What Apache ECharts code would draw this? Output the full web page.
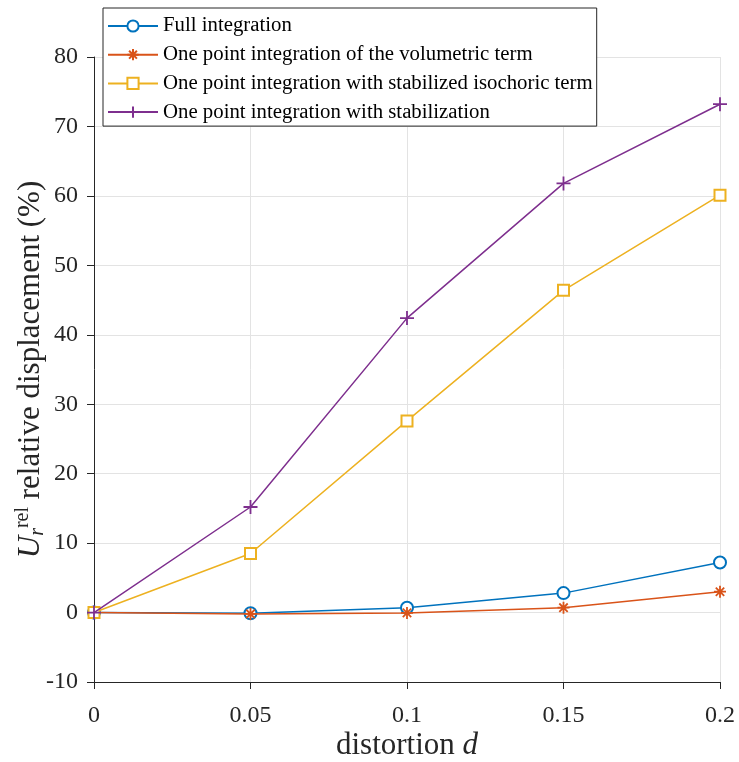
<!DOCTYPE html>
<html>
<head>
<meta charset="utf-8">
<script src="https://cdn.jsdelivr.net/npm/echarts@6/dist/echarts.min.js"></script>
<style>html,body{margin:0;padding:0;background:#fff}#c{width:739px;height:762px}</style>
</head>
<body>
<div id="c"></div>
<script>
var distortion = [0, 0.05, 0.1, 0.15, 0.2];
var fullIntegration = [0, -0.1, 0.7, 2.8, 7.2];
var onePointVolumetric = [0, -0.2, -0.05, 0.7, 3.0];
var onePointStabIsochoric = [0, 8.5, 27.6, 46.4, 60.1];
var onePointStabilization = [0, 15.2, 42.4, 61.8, 73.2];
var seriesNames = [
  'Full integration',
  'One point integration of the volumetric term',
  'One point integration with stabilized isochoric term',
  'One point integration with stabilization'
];
var yTicks = {min: -10, max: 80, interval: 10};
var xTicks = {min: 0, max: 0.2, interval: 0.05};

var FONT = '"Liberation Serif", "Times New Roman", serif';
var colors = ['#0072BD', '#D95319', '#EDB120', '#7E2F8E'];
var asterisk = 'path://M5,0L5,10M0,5L10,5M1.5,1.5L8.5,8.5M8.5,1.5L1.5,8.5';
var plus = 'path://M5,0L5,10M0,5L10,5';

function pairs(arr) { return distortion.map(function (x, i) { return [x, arr[i]]; }); }

var seriesData = [fullIntegration, onePointVolumetric, onePointStabIsochoric, onePointStabilization];
var symbols = ['emptyCircle', asterisk, 'emptyRect', plus];
var symbolSizes = [12, 12, 11, 14];

var series = seriesData.map(function (d, i) {
  var isPath = i === 1 || i === 3;
  return {
    name: seriesNames[i],
    type: 'line',
    data: pairs(d),
    symbol: symbols[i],
    symbolSize: symbolSizes[i],
    showAllSymbol: true,
    lineStyle: {color: colors[i], width: 1.5},
    itemStyle: isPath ? {color: colors[i], borderColor: colors[i], borderWidth: 1.8}
                      : {color: colors[i], borderColor: colors[i], borderWidth: 1.6},
    emphasis: {disabled: true},
    z: 2 + i
  };
});

var chart = echarts.init(document.getElementById('c'), null, {renderer: 'canvas'});
chart.setOption({
  animation: false,
  backgroundColor: '#fff',
  color: colors,
  grid: {left: 94, right: 19, top: 57, bottom: 80, containLabel: false, outerBoundsMode: 'none'},
  legend: {
    left: 103, top: 8, orient: 'vertical',
    backgroundColor: '#fff', borderColor: '#262626', borderWidth: 1,
    padding: [7, 4, 3, 4],
    itemWidth: 50, itemHeight: 14, itemGap: 6.7,
    textStyle: {fontFamily: FONT, fontSize: 20.8, color: '#000', lineHeight: 22},
    data: seriesNames
  },
  xAxis: {
    type: 'value', min: xTicks.min, max: xTicks.max, interval: xTicks.interval,
    name: '{n|distortion }{i|d}', nameLocation: 'middle', nameGap: 48, nameMoveOverlap: false,
    nameTextStyle: {rich: {
      n: {fontFamily: FONT, fontSize: 31, color: '#262626'},
      i: {fontFamily: FONT, fontSize: 31, fontStyle: 'italic', color: '#262626'}
    }},
    axisLine: {show: true, onZero: false, lineStyle: {color: '#262626', width: 1}},
    axisTick: {show: true, inside: false, length: 7, lineStyle: {color: '#262626'}},
    axisLabel: {fontFamily: FONT, fontSize: 24, color: '#262626', margin: 22},
    splitLine: {show: true, lineStyle: {color: '#e3e3e3', width: 1}}
  },
  yAxis: {
    type: 'value', min: yTicks.min, max: yTicks.max, interval: yTicks.interval,
    name: '{i|U}{sub|r}{sup|rel}{n| relative displacement (%)}',
    nameLocation: 'middle', nameGap: 46, nameRotate: 90, nameMoveOverlap: false,
    nameTextStyle: {rich: {
      i: {fontFamily: FONT, fontSize: 31, fontStyle: 'italic', color: '#262626'},
      sub: {fontFamily: FONT, fontSize: 20, fontStyle: 'italic', color: '#262626', padding: [15, 0, 0, 0]},
      sup: {fontFamily: FONT, fontSize: 20, color: '#262626', padding: [0, 0, 15, 0]},
      n: {fontFamily: FONT, fontSize: 31, color: '#262626'}
    }},
    axisLine: {show: true, onZero: false, lineStyle: {color: '#262626', width: 1}},
    axisTick: {show: true, inside: false, length: 7, lineStyle: {color: '#262626'}},
    axisLabel: {fontFamily: FONT, fontSize: 24, color: '#262626', margin: 16},
    splitLine: {show: true, lineStyle: {color: '#e3e3e3', width: 1}}
  },
  series: series
});
</script>
</body>
</html>
